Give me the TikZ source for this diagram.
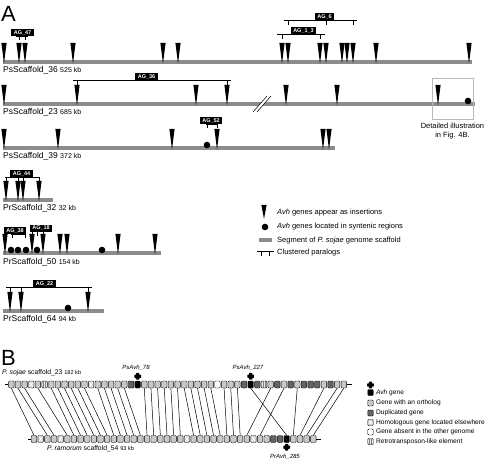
\documentclass[tikz,border=0pt]{standalone}
\usepackage{fontspec}
\setmainfont{Liberation Sans}
\usetikzlibrary{positioning}

\definecolor{scafgray}{RGB}{140,140,140}
\definecolor{genegray}{RGB}{200,200,200}
\definecolor{dupgray}{RGB}{100,100,100}

\newcommand\kbsize[1]{{\fontsize{7}{8}\selectfont #1 kb}}
\newcommand\kbsmall[1]{{\fontsize{5.6}{6}\selectfont #1 kb}}

% scaffold bar with Avh insertions: y, end, wedge positions
\newcommand\scaffold[3]{%
  \draw[bar] (3,#1) -- (#2,#1);
  \foreach \x in {#3} \fill (\x-2.6,#1-19) -- (\x+2.6,#1-19) -- (\x,#1+1.5) -- cycle;
}
% clustered paralogs: name, label, centre, line y, from, to, ticks, tick end
\newcommand\paralogs[8]{%
  \draw[clus] (#5,#4) -- (#6,#4);
  \foreach \x in {#7} \draw[clus] (\x,#4) -- (\x,#8);
  \node[agbox] (#1) at (#3,#4+0.3) {#2};
}

\tikzset{
  bar/.style={line width=4pt, draw=scafgray},
  clus/.style={line width=0.6pt},
  panel/.style={anchor=base west, inner sep=0pt, font=\fontsize{22}{24}\selectfont},
  scaflabel/.style={anchor=west, inner sep=0pt, font=\fontsize{8.5}{10}\selectfont},
  agbox/.style={anchor=south, fill=black, text=white, inner xsep=2.6pt, inner ysep=0.7pt,
    text height=4.1pt, text depth=1.1pt, font=\bfseries\fontsize{5.5}{6}\selectfont},
  legtext/.style={anchor=west, inner sep=0pt, font=\fontsize{7.5}{9}\selectfont},
  legB/.style={anchor=west, inner sep=0pt, font=\fontsize{6.6}{8}\selectfont},
  blabel/.style={anchor=west, inner sep=0pt, font=\fontsize{6.8}{8}\selectfont},
  avhname/.style={inner sep=0pt, font=\itshape\fontsize{6}{7}\selectfont},
  gene/.style={draw, line width=0.4pt, rounded corners=1pt, minimum width=5.5pt,
    minimum height=7pt, inner sep=0pt},
  orth/.style={gene, fill=genegray},
  dupl/.style={gene, fill=dupgray},
  absent/.style={gene, fill=white},
  avhbox/.style={gene, fill=black},
  homo/.style={gene, fill=genegray!80, path picture={
    \draw[white, line width=0.7pt]
      ([xshift=1pt,yshift=1pt]path picture bounding box.south west) -- ([xshift=-1pt,yshift=-1pt]path picture bounding box.north east)
      ([xshift=1pt,yshift=-1pt]path picture bounding box.north west) -- ([xshift=-1pt,yshift=1pt]path picture bounding box.south east);}},
  retro/.style={gene, fill=genegray!40, path picture={
    \draw[gray, line width=0.5pt]
      ([xshift=-0.9pt]path picture bounding box.north) -- ([xshift=-0.9pt]path picture bounding box.south)
      ([xshift=0.9pt]path picture bounding box.north) -- ([xshift=0.9pt]path picture bounding box.south);}},
  link/.style={line width=0.5pt},
  avhmark/.pic={
    \fill[rounded corners=0.8pt] (-1.7,-3.4) rectangle (1.7,3.4);
    \fill[rounded corners=0.8pt] (-3.4,-1.7) rectangle (3.4,1.7);}
}

\begin{document}
\begin{tikzpicture}[x=1pt, y=-1pt]
\useasboundingbox (0,0) rectangle (490,462);

% Panel A
\node[panel] (pa) at (1,22) {A};

\scaffold{62}{472}{4,19,25,73,163,178,282,288,320,326,342,347,353,376,469}
\node[scaflabel] (s36) at (3,70) {PsScaffold\_36 \kbsize{525}};
\paralogs{ag47}{AG\_47}{22.5}{36}{16}{28}{19,25}{40}
\paralogs{ag6}{AG\_6}{324.5}{20}{284}{357}{288,326,353}{25}
\paralogs{ag13}{AG\_1\_3}{303.5}{34}{277}{325}{282,320}{39}

\scaffold{104}{475}{4,77,196,227,286,337,438}
\fill (468,101) circle (3.3);
\node[scaflabel] (s23) at (3,112) {PsScaffold\_23 \kbsize{685}};
\paralogs{ag36}{AG\_36}{146.5}{80}{73}{231}{77,227}{86}
% break in the scaffold
\fill[white] (253,112) -- (257,112) -- (271,96) -- (267,96) -- cycle;
\draw[line width=0.5pt] (253,112) -- (267,96) (257,112) -- (271,96);
% box for Fig. 4B
\draw[gray!55, line width=0.6pt] (432,78) rectangle (473,119);
\node[align=center, inner sep=0pt, font=\fontsize{7.5}{8.2}\selectfont] (det) at (452.5,131) {Detailed illustration\\in Fig. 4B.};

\scaffold{148}{335}{4,58,172,217,323,329}
\fill (207,145) circle (3.3);
\node[scaflabel] (s39) at (3,156) {PsScaffold\_39 \kbsize{372}};
\paralogs{ag52}{AG\_52}{211}{124}{206}{217}{207,217}{128}

\scaffold{200}{53}{6,18,23,39}
\node[scaflabel] (s32) at (3,208) {PrScaffold\_32 \kbsize{32}};
\paralogs{ag44}{AG\_44}{21.5}{177}{5}{40}{6,18,23,39}{181}

\scaffold{253}{161}{5,32,43,60,67,118,155}
\foreach \x in {11,18,26,37,102} \fill (\x,250) circle (3.3);
\node[scaflabel] (s50) at (3,262) {PrScaffold\_50 \kbsize{154}};
\paralogs{ag38}{AG\_38}{15}{234}{11}{26}{12,25}{238}
\paralogs{ag18}{AG\_18}{41}{231.5}{30}{45}{32,37,43}{236}

\scaffold{311}{104}{10,21,88}
\fill (68,308) circle (3.3);
\node[scaflabel] (s64) at (3,319) {PrScaffold\_64 \kbsize{94}};
\paralogs{ag22}{AG\_22}{44.5}{287}{6}{92}{10,21,88}{293}

% Legend A
\fill (261.4,205) -- (266.6,205) -- (264,219) -- cycle;
\node[legtext] (la1) at (277,213) {{\itshape Avh} genes appear as insertions};
\fill (265,227) circle (3.3);
\node[legtext] (la2) at (277,227) {{\itshape Avh} genes located in syntenic regions};
\draw[bar] (259,240) -- (272,240);
\node[legtext] (la3) at (277,241) {Segment of {\itshape P. sojae} genome scaffold};
\draw[clus] (257,251) -- (274,251) (261,251) -- (261,256) (269,251) -- (269,256);
\node[legtext] (la4) at (277,253) {Clustered paralogs};

% Panel B
\node[panel] (pb) at (1,365) {B};
\node[blabel] (ps) at (2,373) {{\itshape P. sojae} scaffold\_23 \kbsmall{182}};
\node[blabel] (pr) at (47,449) {{\itshape P. ramorum} scaffold\_54 \kbsmall{93}};

\foreach \i/\k in {0/orth,1/orth,2/orth,3/homo,4/orth,5/retro,6/orth,7/orth,8/orth,9/orth,
  10/orth,11/orth,12/homo,13/orth,14/orth,15/orth,16/orth,17/orth,18/dupl,19/avhbox,
  20/orth,21/orth,22/orth,23/orth,24/orth,25/orth,26/orth,27/orth,28/orth,29/orth,
  30/orth,31/absent,32/orth,33/orth,34/orth,35/dupl,36/avhbox,37/dupl,38/retro,39/orth,
  40/dupl,41/orth,42/dupl,43/orth,44/dupl,45/dupl,46/dupl,47/orth,48/dupl,49/orth,50/orth}
  \node[\k] (t\i) at ({11.3+6.65*\i},384.5) {};

\foreach \j/\k in {0/orth,1/homo,2/orth,3/orth,4/homo,5/orth,6/orth,7/orth,8/orth,9/orth,
  10/orth,11/orth,12/orth,13/orth,14/orth,15/orth,16/orth,17/orth,18/orth,19/orth,
  20/orth,21/orth,22/orth,23/homo,24/orth,25/orth,26/orth,27/orth,28/orth,29/orth,
  30/orth,31/orth,32/orth,33/homo,34/orth,35/orth,36/dupl,37/dupl,38/avhbox,39/orth,
  40/orth,41/orth,42/orth}
  \node[\k] (b\j) at ({34+6.65*\j},439) {};

\draw (t0.west) -- ++(-3.5,0) (t50.east) -- ++(5,0);
\draw (b0.west) -- ++(-3.5,0) (b42.east) -- ++(5,0);

% orthologous pairs
\foreach \i/\j in {0/0,1/2,2/3,4/5,6/6,7/7,8/8,9/9,10/10,11/11,13/12,14/13,15/14,16/15,17/16,
  20/17,21/18,22/19,23/20,24/21,25/22,26/24,27/25,28/26,29/27,30/28,32/29,33/30,34/31,
  36/38,39/32,41/34,43/39,47/40,49/41,50/42}
  \draw[link] (t\i.south) -- (b\j.north);

% Avh genes
\pic at ([yshift=4.5pt]t19.north) {avhmark};
\pic at ([yshift=4.5pt]t36.north) {avhmark};
\pic at ([yshift=-4.5pt]b38.south) {avhmark};
\node[avhname] (n78) at (136,368) {PsAvh\_78};
\node[avhname] (n227) at (248,368) {PsAvh\_227};
\node[avhname] (n285) at (285,457) {PrAvh\_285};

% Legend B
\node[avhbox, minimum height=6pt] (k0) at (370.5,392.5) {};
\pic at ([yshift=4.3pt]k0.north) {avhmark};
\node[legB, right=2.5pt of k0] (kt0) {{\itshape Avh} gene};
\foreach \s/\y/\t [count=\n] in {orth/403/Gene with an ortholog, dupl/413/Duplicated gene,
  homo/422.5/Homologous gene located elsewhere, absent/432/Gene absent in the other genome,
  retro/441.5/Retrotransposon-like element}
{
  \node[\s, minimum height=6pt] (k\n) at (370.5,\y) {};
  \node[legB, right=2.5pt of k\n] (kt\n) {\t};
}
\end{tikzpicture}
\end{document}
